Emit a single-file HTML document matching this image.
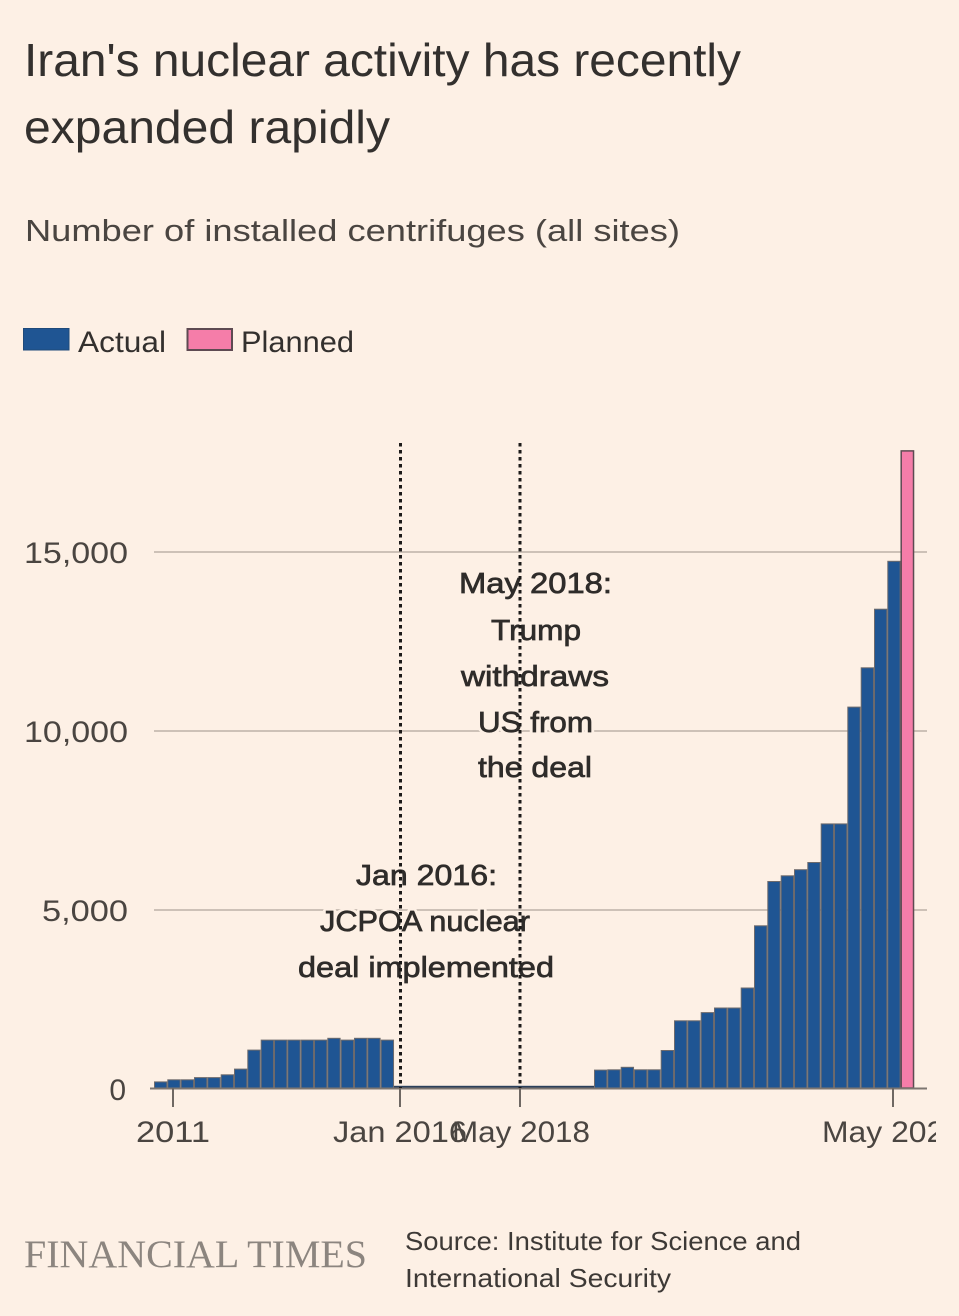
<!DOCTYPE html>
<html>
<head>
<meta charset="utf-8">
<style>
html,body{margin:0;padding:0;background:#fdf0e5;}
svg{display:block;}
text{font-family:"Liberation Sans",sans-serif;}
</style>
</head>
<body>
<svg width="959" height="1316" viewBox="0 0 959 1316" xmlns="http://www.w3.org/2000/svg">
<defs>
<clipPath id="cl"><rect x="0" y="0" width="936" height="1316"/></clipPath>
</defs>
<rect x="0" y="0" width="959" height="1316" fill="#fdf0e5"/>

<!-- Title -->
<text x="24" y="76" font-size="46" fill="#33302e" textLength="717" lengthAdjust="spacingAndGlyphs">Iran's nuclear activity has recently</text>
<text x="24" y="143" font-size="46" fill="#33302e" textLength="366" lengthAdjust="spacingAndGlyphs">expanded rapidly</text>

<!-- Subtitle -->
<text x="25" y="241" font-size="31" fill="#4a4541" textLength="655" lengthAdjust="spacingAndGlyphs">Number of installed centrifuges (all sites)</text>

<!-- Legend -->
<rect x="23.5" y="328.5" width="45.5" height="21.5" fill="#1f5593" stroke="#1f4a7a" stroke-width="1"/>
<text x="78" y="352" font-size="30" fill="#33302e" textLength="88" lengthAdjust="spacingAndGlyphs">Actual</text>
<rect x="187.5" y="329" width="44.5" height="21" fill="#f57da9" stroke="#5e4a52" stroke-width="2"/>
<text x="241" y="352" font-size="30" fill="#33302e" textLength="113" lengthAdjust="spacingAndGlyphs">Planned</text>

<!-- Gridlines -->
<g stroke="#cdc1b7" stroke-width="2">
<line x1="154" y1="552" x2="927" y2="552"/>
<line x1="154" y1="731" x2="927" y2="731"/>
<line x1="154" y1="910" x2="927" y2="910"/>
</g>

<!-- Y labels -->
<g font-size="30" fill="#4a4541" text-anchor="end">
<text x="128" y="563" textLength="104" lengthAdjust="spacingAndGlyphs">15,000</text>
<text x="128" y="742" textLength="104" lengthAdjust="spacingAndGlyphs">10,000</text>
<text x="128" y="921" textLength="86" lengthAdjust="spacingAndGlyphs">5,000</text>
<text x="126" y="1100">0</text>
</g>

<!-- Bars -->
<g fill="#1f5593" stroke="#6d6a6c" stroke-width="1">
<rect x="154.5" y="1081.9" width="12.33" height="6.1"/>
<rect x="167.8" y="1079.8" width="12.33" height="8.2"/>
<rect x="181.2" y="1079.8" width="12.33" height="8.2"/>
<rect x="194.5" y="1077.6" width="12.33" height="10.4"/>
<rect x="207.8" y="1077.6" width="12.33" height="10.4"/>
<rect x="221.2" y="1074.8" width="12.33" height="13.2"/>
<rect x="234.5" y="1069.1" width="12.33" height="18.9"/>
<rect x="247.8" y="1050.1" width="12.33" height="37.9"/>
<rect x="261.2" y="1040.1" width="12.33" height="47.9"/>
<rect x="274.5" y="1040.1" width="12.33" height="47.9"/>
<rect x="287.8" y="1040.1" width="12.33" height="47.9"/>
<rect x="301.2" y="1040.1" width="12.33" height="47.9"/>
<rect x="314.5" y="1040.1" width="12.33" height="47.9"/>
<rect x="327.8" y="1038.3" width="12.33" height="49.7"/>
<rect x="341.2" y="1040.1" width="12.33" height="47.9"/>
<rect x="354.5" y="1038.3" width="12.33" height="49.7"/>
<rect x="367.8" y="1038.3" width="12.33" height="49.7"/>
<rect x="381.2" y="1040.1" width="12.33" height="47.9"/>

<rect x="594.5" y="1070.1" width="12.33" height="17.9"/>
<rect x="607.8" y="1069.8" width="12.33" height="18.2"/>
<rect x="621.2" y="1067.3" width="12.33" height="20.7"/>
<rect x="634.5" y="1069.8" width="12.33" height="18.2"/>
<rect x="647.8" y="1069.8" width="12.33" height="18.2"/>
<rect x="661.2" y="1050.5" width="12.33" height="37.5"/>
<rect x="674.5" y="1020.8" width="12.33" height="67.2"/>
<rect x="687.8" y="1020.8" width="12.33" height="67.2"/>
<rect x="701.2" y="1012.6" width="12.33" height="75.4"/>
<rect x="714.5" y="1008.0" width="12.33" height="80.0"/>
<rect x="727.8" y="1008.0" width="12.33" height="80.0"/>
<rect x="741.2" y="988.0" width="12.33" height="100.0"/>
<rect x="754.5" y="925.8" width="12.33" height="162.2"/>
<rect x="767.8" y="881.5" width="12.33" height="206.5"/>
<rect x="781.2" y="875.8" width="12.33" height="212.2"/>
<rect x="794.5" y="869.7" width="12.33" height="218.3"/>
<rect x="807.8" y="862.5" width="12.33" height="225.5"/>
<rect x="821.2" y="823.9" width="12.33" height="264.1"/>
<rect x="834.5" y="823.9" width="12.33" height="264.1"/>
<rect x="847.8" y="707.1" width="12.33" height="380.9"/>
<rect x="861.2" y="667.8" width="12.33" height="420.2"/>
<rect x="874.5" y="609.2" width="12.33" height="478.8"/>
<rect x="887.8" y="561.3" width="12.33" height="526.7"/>
</g>
<!-- near-zero bars -->
<rect x="394" y="1085.8" width="200" height="2" fill="#2a3f5a"/>
<!-- Planned bar -->
<rect x="901.2" y="450.9" width="12.33" height="637.1" fill="#f57da9" stroke="#5e4a52" stroke-width="1.5"/>

<!-- Axis -->
<line x1="150" y1="1088.5" x2="927" y2="1088.5" stroke="#7d7671" stroke-width="2"/>
<g stroke="#6f6863" stroke-width="2">
<line x1="173" y1="1088" x2="173" y2="1107"/>
<line x1="400" y1="1088" x2="400" y2="1107"/>
<line x1="520" y1="1088" x2="520" y2="1107"/>
<line x1="893" y1="1088" x2="893" y2="1107"/>
</g>

<!-- X labels -->
<g font-size="30" fill="#4a4541" clip-path="url(#cl)">
<text x="136" y="1142" textLength="74" lengthAdjust="spacingAndGlyphs">2011</text>
<text x="333" y="1142" textLength="134" lengthAdjust="spacingAndGlyphs">Jan 2016</text>
<text x="452" y="1142" textLength="138" lengthAdjust="spacingAndGlyphs">May 2018</text>
<text x="822" y="1142" textLength="140" lengthAdjust="spacingAndGlyphs">May 2021</text>
</g>

<!-- Annotations halo -->
<g font-size="29" fill="#fdf0e5" stroke="#fdf0e5" stroke-width="6" stroke-linejoin="round">
<text x="459" y="593" textLength="153" lengthAdjust="spacingAndGlyphs">May 2018:</text>
<text x="491" y="640" textLength="90" lengthAdjust="spacingAndGlyphs">Trump</text>
<text x="461" y="686" textLength="148" lengthAdjust="spacingAndGlyphs">withdraws</text>
<text x="478" y="732" textLength="115" lengthAdjust="spacingAndGlyphs">US from</text>
<text x="478" y="777" textLength="114" lengthAdjust="spacingAndGlyphs">the deal</text>
<text x="356" y="885" textLength="141" lengthAdjust="spacingAndGlyphs">Jan 2016:</text>
<text x="320" y="931" textLength="210" lengthAdjust="spacingAndGlyphs">JCPOA nuclear</text>
<text x="298" y="977" textLength="256" lengthAdjust="spacingAndGlyphs">deal implemented</text>
</g>
<!-- Annotations -->
<g font-size="29" fill="#2f2c2a" stroke="#2f2c2a" stroke-width="0.7">
<text x="459" y="593" textLength="153" lengthAdjust="spacingAndGlyphs">May 2018:</text>
<text x="491" y="640" textLength="90" lengthAdjust="spacingAndGlyphs">Trump</text>
<text x="461" y="686" textLength="148" lengthAdjust="spacingAndGlyphs">withdraws</text>
<text x="478" y="732" textLength="115" lengthAdjust="spacingAndGlyphs">US from</text>
<text x="478" y="777" textLength="114" lengthAdjust="spacingAndGlyphs">the deal</text>
<text x="356" y="885" textLength="141" lengthAdjust="spacingAndGlyphs">Jan 2016:</text>
<text x="320" y="931" textLength="210" lengthAdjust="spacingAndGlyphs">JCPOA nuclear</text>
<text x="298" y="977" textLength="256" lengthAdjust="spacingAndGlyphs">deal implemented</text>
</g>

<!-- Dotted lines -->
<g stroke="#1c1a19" stroke-width="3" stroke-dasharray="3.5 3.5">
<line x1="400.5" y1="443" x2="400.5" y2="1088"/>
<line x1="520" y1="443" x2="520" y2="1088"/>
</g>

<!-- Footer -->
<text x="24" y="1267" font-family="Liberation Serif, serif" font-size="39" fill="#8c857f" textLength="343" lengthAdjust="spacingAndGlyphs" style="font-family:'Liberation Serif',serif">FINANCIAL TIMES</text>
<text x="405" y="1250" font-size="26" fill="#3d3936" textLength="396" lengthAdjust="spacingAndGlyphs">Source: Institute for Science and</text>
<text x="405" y="1287" font-size="26" fill="#3d3936" textLength="266" lengthAdjust="spacingAndGlyphs">International Security</text>
</svg>
</body>
</html>
